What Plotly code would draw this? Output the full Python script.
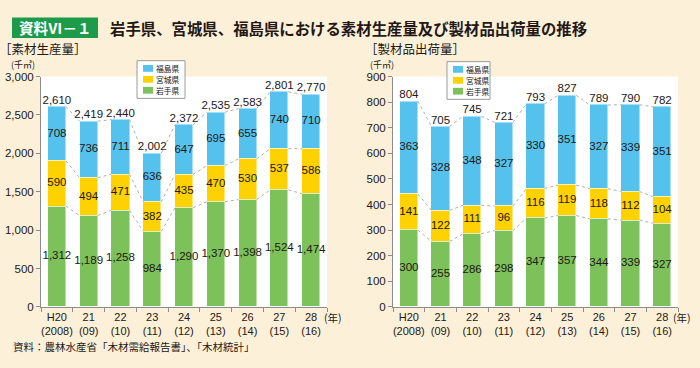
import plotly.graph_objects as go

# ---------------- data ----------------
categories = ["H20<br>(2008)", "21<br>(09)", "22<br>(10)", "23<br>(11)", "24<br>(12)",
              "25<br>(13)", "26<br>(14)", "27<br>(15)", "28<br>(16)"]
series_names = ["岩手県", "宮城県", "福島県"]

# 素材生産量 (千㎥)
log_iwate = [1312, 1189, 1258, 984, 1290, 1370, 1398, 1524, 1474]
log_miyagi = [590, 494, 471, 382, 435, 470, 530, 537, 586]
log_fukushima = [708, 736, 711, 636, 647, 695, 655, 740, 710]
log_total = [2610, 2419, 2440, 2002, 2372, 2535, 2583, 2801, 2770]

# 製材品出荷量 (千㎥)
lum_iwate = [300, 255, 286, 298, 347, 357, 344, 339, 327]
lum_miyagi = [141, 122, 111, 96, 116, 119, 118, 112, 104]
lum_fukushima = [363, 328, 348, 327, 330, 351, 327, 339, 351]
lum_total = [804, 705, 745, 721, 793, 827, 789, 790, 782]

left_ticks = [0, 500, 1000, 1500, 2000, 2500, 3000]
right_ticks = [0, 100, 200, 300, 400, 500, 600, 700, 800, 900]

# ---------------- style ----------------
W, H = 700, 368
BG = "#fdf0d8"
COLORS = ["#7cc159", "#fdd200", "#55c2ee"]
TXT = "#231815"
AXC = "#8c8c8c"
NUM_FONT = "Liberation Sans Narrow, Liberation Sans, Arial, sans-serif"
JP_FONT = "Noto Sans CJK JP, sans-serif"
BAR_W = 0.57


def px(x):
    return x / W


def py(y):
    return 1 - y / H


fig = go.Figure()
xs = list(range(len(categories)))


def add_chart(series, totals, xa, ya, fmt):
    base = [0] * len(xs)
    levels = []
    for name, vals, col in zip(series_names, series, COLORS):
        fig.add_trace(go.Bar(x=xs, y=vals, name=name, marker=dict(color=col, line=dict(width=0.6, color="rgba(255,255,255,0.8)")),
                             width=BAR_W, xaxis=xa, yaxis=ya, showlegend=False, hoverinfo="skip"))
        mids = [b + v / 2 for b, v in zip(base, vals)]
        fig.add_trace(go.Scatter(x=xs, y=mids, mode="text", text=[fmt(v) for v in vals],
                                 textposition="middle center",
                                 textfont=dict(size=11.5, color=TXT, family=NUM_FONT),
                                 xaxis=xa, yaxis=ya, showlegend=False, hoverinfo="skip"))
        base = [b + v for b, v in zip(base, vals)]
        levels.append(list(base))
    # dotted connectors
    for lev in levels:
        lx, ly = [], []
        for i in range(len(xs) - 1):
            lx += [xs[i] + BAR_W / 2, xs[i + 1] - BAR_W / 2, None]
            ly += [lev[i], lev[i + 1], None]
        fig.add_trace(go.Scatter(x=lx, y=ly, mode="lines", line=dict(color="#b0b0b0", width=1, dash="dot"),
                                 xaxis=xa, yaxis=ya, showlegend=False, hoverinfo="skip"))
    fig.add_trace(go.Scatter(x=xs, y=totals, mode="text", text=[fmt(v) for v in totals],
                             textposition="top center",
                             textfont=dict(size=11.5, color=TXT, family=NUM_FONT),
                             xaxis=xa, yaxis=ya, showlegend=False, hoverinfo="skip"))


add_chart([log_iwate, log_miyagi, log_fukushima], log_total, "x", "y", lambda v: f"{v:,}")
add_chart([lum_iwate, lum_miyagi, lum_fukushima], lum_total, "x2", "y2", lambda v: f"{v}")

bounds = [i - 0.5 for i in range(len(xs) + 1)]


def xaxis(dom, anchor):
    return dict(domain=dom, anchor=anchor, range=[-0.5, len(xs) - 0.5], tickmode="array",
                tickvals=xs, ticktext=categories, ticks="", showline=True, linecolor=AXC,
                linewidth=1, showgrid=False, zeroline=False,
                tickfont=dict(size=11, color=TXT, family=NUM_FONT),
                minor=dict(tickmode="array", tickvals=bounds, ticks="outside", ticklen=4,
                           tickcolor=AXC, showgrid=False))


def yaxis(dom, anchor, rng, ticks, fmt):
    return dict(domain=dom, anchor=anchor, range=rng, tickmode="array", tickvals=ticks,
                tickformat=fmt, ticks="outside", ticklen=4, tickcolor=AXC, showline=True,
                linecolor=AXC, linewidth=1, showgrid=False, zeroline=False,
                tickfont=dict(size=11.5, color=TXT, family=NUM_FONT))


ydom = [py(311), py(73)]
fig.update_layout(
    width=W, height=H, autosize=False, margin=dict(l=0, r=0, t=0, b=0),
    paper_bgcolor=BG, plot_bgcolor="white", barmode="stack", bargap=0,
    showlegend=False,
    xaxis=xaxis([px(41), px(327)], "y"),
    yaxis=yaxis(ydom, "x", [0, 3000], left_ticks, ","),
    xaxis2=xaxis([px(393), px(678)], "y2"),
    yaxis2=yaxis(ydom, "x2", [0, 900], right_ticks, "d"),
)

shapes = []
annots = []


def note(text, x, y, size, color=TXT, xanchor="left"):
    annots.append(dict(text=text, x=px(x), y=py(y), xref="paper", yref="paper",
                       xanchor=xanchor, yanchor="middle", showarrow=False, borderpad=0,
                       font=dict(size=size, color=color, family=JP_FONT)))


# title box
shapes.append(dict(type="rect", xref="paper", yref="paper", x0=px(12), x1=px(98), y0=py(33), y1=py(12),
                   fillcolor="#1d9a4a", line=dict(width=0), layer="below"))
note("<b>資料Ⅵ－１</b>", 55, 22.5, 14.5, color="white", xanchor="center")
note("<b>岩手県、宮城県、福島県における素材生産量及び製材品出荷量の推移</b>", 109, 22.5, 15.4)
note("［素材生産量］", -2, 44, 12.5)
note("［製材品出荷量］", 364, 44, 12.5)
for xx in (10, 369):
    note("(千㎥)", xx, 60.5, 9)
for xx in (323, 672):
    note("(年)", xx, 322, 10.5)
note("資料：農林水産省「木材需給報告書」、「木材統計」", 12, 352, 10.5)

# legends (drawn as boxes)
legend_order = [2, 1, 0]
for (bx0, by0, bx1, by1) in ((137, 56.5, 185, 95.5), (447, 57.5, 490, 96.5)):
    shapes.append(dict(type="rect", xref="paper", yref="paper", x0=px(bx0), x1=px(bx1), y0=py(by1), y1=py(by0),
                       fillcolor="white", line=dict(color="#9a9a9a", width=1), layer="above"))
    for k, si in enumerate(legend_order):
        cy = by0 + 8 + k * 11.3
        shapes.append(dict(type="rect", xref="paper", yref="paper", x0=px(bx0 + 6), x1=px(bx0 + 16),
                           y0=py(cy + 3.5), y1=py(cy - 3.5), fillcolor=COLORS[si], line=dict(width=0),
                           layer="above"))
        note(series_names[si], bx0 + 18, cy, 7.8)

fig.update_layout(shapes=shapes, annotations=annots)
fig.write_html("out.html", config={"displayModeBar": False},
               post_script="document.body.style.margin='0';document.body.style.padding='0';")
